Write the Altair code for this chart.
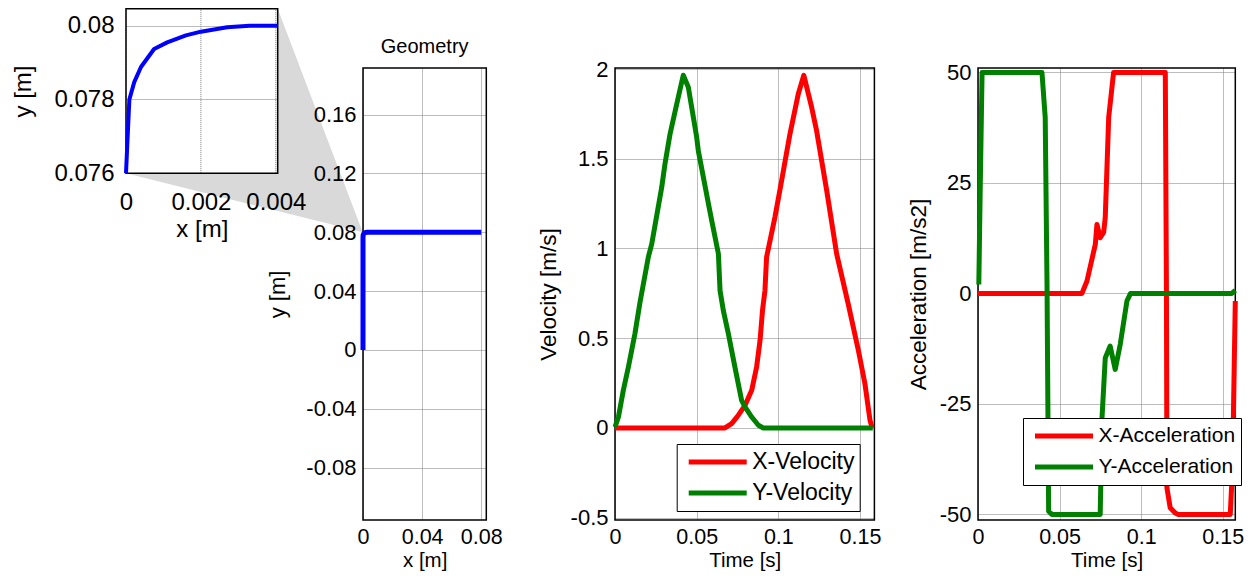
import altair as alt
import pandas as pd

FONT = "Liberation Sans"
RED, GREEN, BLUE, GRAY, GRID = "#ff0000", "#008000", "#0000ff", "#d9d9d9", "#7a7a7a"

# ---------------- data ----------------
# zoomed corner of the path (inset)
corner_x = [0.0, 0.00004, 0.00009, 0.00022, 0.0004, 0.00075, 0.0011, 0.0016, 0.002, 0.0027, 0.0033, 0.00405]
corner_y = [0.076, 0.0769, 0.0780, 0.07847, 0.07888, 0.07937, 0.07955, 0.07974, 0.07984, 0.07996, 0.0800, 0.0800]
# full geometry path: start, corner, end
path_start = [0.0, 0.0]
path_end = [0.08, 0.08]
zoom_target = [0.0, 0.08]

# velocities
vx_t = [0, 0.0673, 0.0714, 0.0755, 0.0796, 0.0837, 0.0867, 0.0888, 0.0903, 0.0918, 0.0928, 0.0979, 0.102,
        0.1071, 0.1122, 0.1156, 0.1204, 0.1234, 0.1296, 0.1357, 0.1428, 0.149, 0.153, 0.1561, 0.1575]
vx_v = [0, 0, 0.024, 0.071, 0.126, 0.21, 0.34, 0.488, 0.655, 0.766, 0.952, 1.174, 1.378,
        1.638, 1.861, 1.965, 1.786, 1.657, 1.323, 0.97, 0.69, 0.432, 0.247, 0.043, 0]
vy_t = [0, 0.0021, 0.0051, 0.0082, 0.0122, 0.0153, 0.0204, 0.0225, 0.0286, 0.0306, 0.0337, 0.0378, 0.0418,
        0.0449, 0.05, 0.051, 0.0572, 0.0592, 0.0633, 0.0643, 0.0663, 0.0694, 0.0734, 0.0775, 0.0796,
        0.0837, 0.0878, 0.0908, 0.1578]
vy_v = [0.005, 0.061, 0.21, 0.34, 0.525, 0.70, 0.952, 1.026, 1.341, 1.471, 1.638, 1.805, 1.965,
        1.898, 1.62, 1.545, 1.249, 1.156, 0.97, 0.766, 0.655, 0.525, 0.34, 0.154, 0.117,
        0.061, 0.015, 0.0, 0.0]

# accelerations
ax_t = [0, 0.0637, 0.0668, 0.0719, 0.0729, 0.0749, 0.077, 0.078, 0.0801, 0.0831, 0.1148, 0.1155, 0.1158,
        0.1178, 0.1209, 0.1225, 0.1546, 0.156, 0.1577]
ax_a = [0, 0, 2.8, 11.1, 15.6, 12.6, 13.8, 17.2, 39.8, 50, 50, 0, -44,
        -48.5, -49.7, -50, -50, -39.5, -1.7]
ay_t = [0.0005, 0.0014, 0.0025, 0.0392, 0.0412, 0.0423, 0.0428, 0.0433, 0.0453, 0.0749, 0.076, 0.078,
        0.081, 0.0841, 0.0872, 0.0913, 0.0935, 0.1556, 0.1577]
ay_a = [2.0, 24.7, 50, 50, 39.8, 2, -24, -49.3, -50, -50, -28.2, -14.6,
        -11.9, -17.2, -11.5, -1.7, 0, 0, 0.7]

# tick values
ins_xticks = [0, 0.002, 0.004]
ins_yticks = [0.076, 0.078, 0.08]
geo_xticks = [0, 0.04, 0.08]
geo_yticks = [-0.08, -0.04, 0, 0.04, 0.08, 0.12, 0.16]
t_ticks = [0, 0.05, 0.1, 0.15]
v_ticks = [-0.5, 0, 0.5, 1, 1.5, 2]
a_ticks = [-50, -25, 0, 25, 50]

# domains
INSET_X, INSET_Y = [0, 0.00405], [0.076, 0.08046]
GEO_X, GEO_Y = [0, 0.0834], [-0.1157, 0.1917]
VEL_X, VEL_Y = [0, 0.1588], [-0.5128, 2.0056]
ACC_X, ACC_Y = [0, 0.1577], [-51.27, 51.0]

# ---------------- layout (pixels) ----------------
GAP = 85
MAIN_H = 452
INSET_W, INSET_H, INSET_UP = 151.7, 164.4, 59.2
GEO_W, GEO_EXTRA = 123.3, 43.3
VEL_W, VEL_EXTRA = 259.4, 18.3
ACC_W = 257.3


def fwd(d, dom, rng):
    return rng[0] + (d - dom[0]) / (dom[1] - dom[0]) * (rng[1] - rng[0])


def inv(p, dom, rng):
    return dom[0] + (p - rng[0]) / (rng[1] - rng[0]) * (dom[1] - dom[0])


def axis(values, lsize=22, tsize=22.5, lpad=7, tpad=10, grid=True, **kw):
    return alt.Axis(values=values, labelExpr="'' + datum.value", labelFontSize=lsize, titleFontSize=tsize,
                    labelPadding=lpad, titlePadding=tpad, titleFontWeight="normal", labelFlush=False,
                    labelOverlap=False, ticks=False, tickSize=0, domain=False, grid=grid,
                    gridColor=GRID, gridDash=[1, 1], gridWidth=1, labelColor="black",
                    titleColor="black", labelFont=FONT, titleFont=FONT, **kw)


def frame(xd, yd, xs, ys, xa, ya):
    df = pd.DataFrame({"x0": [xd[0]], "x1": [xd[1]], "y0": [yd[0]], "y1": [yd[1]]})
    return alt.Chart(df).mark_rect(fillOpacity=0, stroke="black", strokeWidth=1.5).encode(
        x=alt.X("x0:Q", scale=xs, axis=xa), x2="x1:Q",
        y=alt.Y("y0:Q", scale=ys, axis=ya), y2="y1:Q")


# ---------------- inset ----------------
ins_xr = [0, INSET_W]
ins_yr = [INSET_H - INSET_UP, -INSET_UP]
ins_xs = alt.Scale(domain=INSET_X, range=ins_xr, nice=False, zero=False)
ins_ys = alt.Scale(domain=INSET_Y, range=ins_yr, nice=False, zero=False)
ins_xa = axis(ins_xticks, 24, 24, 17, 3, grid=False, title="x [m]", zindex=1)
ins_ya = axis(ins_yticks, 24, 24, 12, 18.7, title="y [m]")

# zoom-connection polygon: inset corners -> geometry point (0, 0.08)
tx_px = INSET_W + GAP + fwd(zoom_target[0], GEO_X, [0, GEO_W])
ty_px = fwd(zoom_target[1], GEO_Y, [MAIN_H, 0])
tx, ty = inv(tx_px, INSET_X, ins_xr), inv(ty_px, INSET_Y, ins_yr)
x0, x1 = INSET_X
y0, y1 = INSET_Y
lower_at_x1 = y0 + (ty - y0) * (x1 - x0) / (tx - x0)
poly = pd.DataFrame({"k": [0, 1, 2, 3, 4, 5], "px": [x0, x1, x1, tx, x1, x0],
                     "py": [y0, y0, y1, ty, lower_at_x1, y0]})

gray = alt.Chart(poly).mark_line(fill=GRAY, strokeWidth=0, strokeOpacity=0, fillOpacity=1).encode(
    x=alt.X("px:Q", scale=ins_xs, axis=ins_xa),
    y=alt.Y("py:Q", scale=ins_ys, axis=ins_ya),
    order="k:Q")
vgrid = alt.Chart(pd.DataFrame({"g": ins_xticks, "lo": y0, "hi": y1})).mark_rule(
    color=GRID, strokeDash=[1, 1], strokeWidth=1).encode(
    x=alt.X("g:Q", scale=ins_xs, axis=ins_xa),
    y=alt.Y("lo:Q", scale=ins_ys, axis=ins_ya), y2="hi:Q")
ins_df = pd.DataFrame({"i": range(len(corner_x)), "x": corner_x, "y": corner_y})
ins_line = alt.Chart(ins_df).mark_line(color=BLUE, strokeWidth=4, strokeJoin="round").encode(
    x=alt.X("x:Q", scale=ins_xs, axis=ins_xa), y=alt.Y("y:Q", scale=ins_ys, axis=ins_ya), order="i:Q")
inset = alt.layer(gray, vgrid, frame(INSET_X, INSET_Y, ins_xs, ins_ys, ins_xa, ins_ya), ins_line).properties(
    width=INSET_W, height=INSET_H - INSET_UP)

# ---------------- geometry ----------------
geo_xs = alt.Scale(domain=GEO_X, range=[0, GEO_W], nice=False, zero=False)
geo_ys = alt.Scale(domain=GEO_Y, nice=False, zero=False)
geo_xa = axis(geo_xticks, 21.5, 20.5, 6, 3, title="x [m]")
geo_ya = axis(geo_yticks, 22, 22, 7, 16, title="y [m]")
gx = [path_start[0]] + corner_x + [path_end[0]]
gy = [path_start[1]] + corner_y + [path_end[1]]
geo_df = pd.DataFrame({"i": range(len(gx)), "x": gx, "y": gy})
geo_line = alt.Chart(geo_df).mark_line(color=BLUE, strokeWidth=5, strokeJoin="miter").encode(
    x=alt.X("x:Q", scale=geo_xs, axis=geo_xa), y=alt.Y("y:Q", scale=geo_ys, axis=geo_ya), order="i:Q")
geo = alt.layer(frame(GEO_X, GEO_Y, geo_xs, geo_ys, geo_xa, geo_ya), geo_line).properties(
    width=GEO_W + GEO_EXTRA, height=MAIN_H,
    title=alt.Title("Geometry", fontSize=20, fontWeight="normal", font=FONT, offset=10.5,
                    dx=-GEO_EXTRA / 2, color="black"))


def legend(lx, ly, fs):
    return alt.Legend(orient="none", legendX=lx, legendY=ly, title=None, symbolType="stroke",
                      symbolSize=58 * 58, symbolStrokeWidth=5, labelFontSize=fs, labelFont=FONT,
                      labelColor="black", fillColor="white", strokeColor="black", padding=5,
                      clipHeight=26, rowPadding=5, symbolOffset=4.5, labelOffset=3)


# ---------------- velocity ----------------
vel_xs = alt.Scale(domain=VEL_X, range=[0, VEL_W], nice=False, zero=False)
vel_ys = alt.Scale(domain=VEL_Y, nice=False, zero=False)
vel_xa = axis(t_ticks, 21.5, 20.5, 6, 3, title="Time [s]")
vel_ya = axis(v_ticks, 22, 22.5, 7, 10, title="Velocity [m/s]")
vel_df = pd.concat([
    pd.DataFrame({"s": "X-Velocity", "i": range(len(vx_t)), "t": vx_t, "v": vx_v}),
    pd.DataFrame({"s": "Y-Velocity", "i": range(len(vy_t)), "t": vy_t, "v": vy_v}),
])
vel_lines = alt.Chart(vel_df).mark_line(strokeWidth=5, strokeJoin="round").encode(
    x=alt.X("t:Q", scale=vel_xs, axis=vel_xa),
    y=alt.Y("v:Q", scale=vel_ys, axis=vel_ya),
    color=alt.Color("s:N", scale=alt.Scale(domain=["X-Velocity", "Y-Velocity"], range=[RED, GREEN]),
                    legend=legend(61.7, 376, 23)),
    order="i:Q")
vel = alt.layer(frame(VEL_X, VEL_Y, vel_xs, vel_ys, vel_xa, vel_ya), vel_lines).properties(
    width=VEL_W + VEL_EXTRA, height=MAIN_H)

# ---------------- acceleration ----------------
acc_xs = alt.Scale(domain=ACC_X, range=[0, ACC_W], nice=False, zero=False)
acc_ys = alt.Scale(domain=ACC_Y, nice=False, zero=False)
acc_xa = axis(t_ticks, 21.5, 20.5, 6, 3, title="Time [s]")
acc_ya = axis(a_ticks, 22, 22.5, 7, 9, title="Acceleration [m/s2]")
acc_df = pd.concat([
    pd.DataFrame({"s": "X-Acceleration", "i": range(len(ax_t)), "t": ax_t, "a": ax_a}),
    pd.DataFrame({"s": "Y-Acceleration", "i": range(len(ay_t)), "t": ay_t, "a": ay_a}),
])
acc_lines = alt.Chart(acc_df).mark_line(strokeWidth=5, strokeJoin="round").encode(
    x=alt.X("t:Q", scale=acc_xs, axis=acc_xa),
    y=alt.Y("a:Q", scale=acc_ys, axis=acc_ya),
    color=alt.Color("s:N", scale=alt.Scale(domain=["X-Acceleration", "Y-Acceleration"], range=[RED, GREEN]),
                    legend=legend(45, 350, 21)),
    order="i:Q")
acc = alt.layer(frame(ACC_X, ACC_Y, acc_xs, acc_ys, acc_xa, acc_ya), acc_lines).properties(
    width=ACC_W, height=MAIN_H)

chart = alt.hconcat(inset, geo, vel, acc, spacing=GAP, bounds="flush").resolve_scale(
    color="independent").resolve_legend(color="independent").properties(
    padding={"left": 3, "top": 0, "right": 0, "bottom": 0}, background="white"
).configure_view(stroke=None)

chart.save("out.html", embed_options={"renderer": "svg", "actions": False})
